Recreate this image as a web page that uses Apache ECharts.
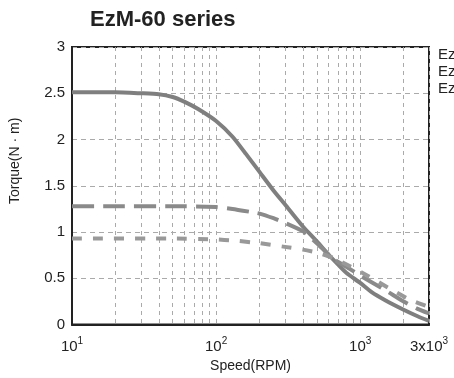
<!DOCTYPE html>
<html><head><meta charset="utf-8">
<script src="https://cdn.jsdelivr.net/npm/echarts@6/dist/echarts.min.js"></script>
<style>html,body{margin:0;padding:0;background:#fff}#c{width:454px;height:378px}</style>
</head><body><div id="c"></div>
<script>
var seriesNames = ['EzM-60S', 'EzM-60M', 'EzM-60L'];
// [speed RPM, torque N·m]
var solidL = [[10,2.51],[20,2.51],[30,2.50],[40,2.49],[50,2.46],[60,2.41],[75,2.33],[100,2.20],[130,2.03],[160,1.85],[200,1.65],[250,1.45],[300,1.30],[400,1.06],[500,0.90],[600,0.76],[700,0.65],[800,0.56],[1000,0.45],[1200,0.35],[1500,0.26],[2000,0.16],[2500,0.09],[3000,0.04]];
var dashM = [[10,1.28],[20,1.28],[50,1.28],[100,1.27],[130,1.25],[170,1.22],[200,1.20],[250,1.15],[300,1.10],[400,1.01],[500,0.88],[650,0.71],[850,0.60],[1000,0.53],[1500,0.37],[2000,0.25],[2500,0.17],[3000,0.12]];
var dotS = [[10,0.93],[50,0.93],[100,0.92],[130,0.91],[200,0.88],[300,0.84],[400,0.81],[500,0.78],[650,0.72],[850,0.63],[1150,0.52],[1600,0.39],[2200,0.27],[3000,0.19]];
var xGridValues = [10,20,30,40,50,60,70,80,90,100,200,300,400,500,600,700,800,900,1000,2000,3000];
var xLabelValues = [10,100,1000,3000];
var xLabelTexts = ['10{s|1}','10{s|2}','10{s|3}','3x10{s|3}'];

var chart = echarts.init(document.getElementById('c'));
var font = 'Liberation Sans, Arial, sans-serif';
chart.setOption({
  animation: false,
  title: {text: 'EzM-60 series', left: 85, top: 4, textStyle: {fontFamily: font, fontSize: 22, fontWeight: 'bold', color: '#222'}},
  legend: {orient: 'vertical', left: 427, top: 42, itemWidth: 0, itemHeight: 0, itemGap: 2,
    data: [seriesNames[2], seriesNames[1], seriesNames[0]],
    textStyle: {fontFamily: font, fontSize: 15, color: '#222'}},
  grid: {left: 71, right: 25, top: 47, bottom: 51, show: true, borderColor: '#222', borderWidth: 2},
  xAxis: {type: 'log', logBase: 10, min: 10, max: 3000,
    name: 'Speed(RPM)', nameLocation: 'middle', nameGap: 31,
    nameTextStyle: {fontFamily: font, fontSize: 14, color: '#222'},
    axisLine: {show: true, lineStyle: {color: '#222', width: 2}},
    axisTick: {show: false, customValues: xGridValues},
    axisLabel: {customValues: xLabelValues, margin: 12,
      formatter: function (v) { var i = xLabelValues.indexOf(Math.round(v)); return i >= 0 ? xLabelTexts[i] : ''; },
      fontFamily: font, fontSize: 15, color: '#222',
      rich: {s: {fontSize: 10, verticalAlign: 'top', lineHeight: 20, padding: [0,0,6,0], fontFamily: font, color: '#222'}}},
    splitLine: {show: true, lineStyle: {color: '#aaa', type: [4, 4], width: 1}}
  },
  yAxis: {type: 'value', min: 0, max: 3, interval: 0.5,
    name: 'Torque(N · m)', nameLocation: 'middle', nameGap: 50, nameRotate: 90,
    nameTextStyle: {fontFamily: font, fontSize: 14, color: '#222', padding: [0,0,0,50]},
    axisLine: {show: true, lineStyle: {color: '#222', width: 2}},
    axisTick: {show: false},
    axisLabel: {margin: 7, fontFamily: font, fontSize: 15, color: '#222'},
    splitLine: {show: true, lineStyle: {color: '#aaa', type: [5, 4], width: 1}}
  },
  series: [
    {name: seriesNames[2], type: 'line', data: solidL, smooth: 0.2, showSymbol: false,
      lineStyle: {color: '#7f7f7f', width: 4}, itemStyle: {color: '#7f7f7f'}},
    {name: seriesNames[1], type: 'line', data: dashM, smooth: 0.15, showSymbol: false,
      lineStyle: {color: '#8a8a8a', width: 4, type: [22, 9]}, itemStyle: {color: '#8a8a8a'}},
    {name: seriesNames[0], type: 'line', data: dotS, smooth: 0.15, showSymbol: false,
      lineStyle: {color: '#999', width: 4, type: [10, 11]}, itemStyle: {color: '#999'}}
  ]
});
</script></body></html>
